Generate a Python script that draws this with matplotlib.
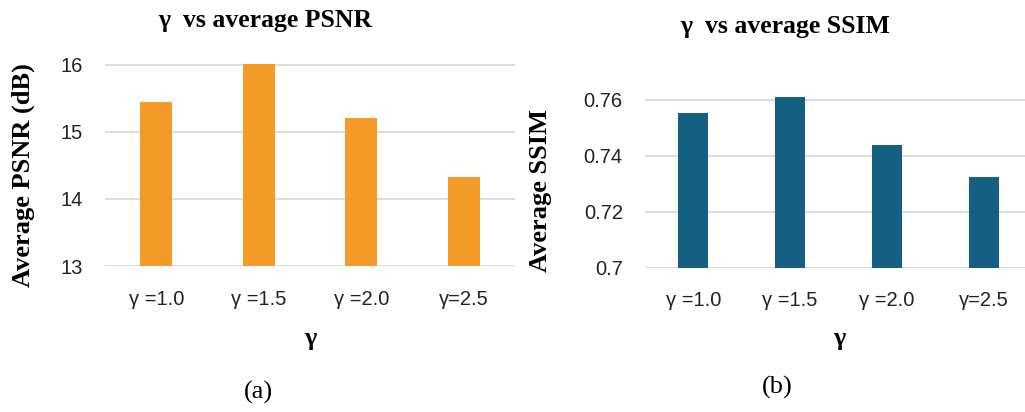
import matplotlib
matplotlib.use("Agg")
import matplotlib.pyplot as plt

categories = ["γ =1.0", "γ =1.5", "γ =2.0", "γ=2.5"]
psnr_values = [15.44, 16.01, 15.21, 14.33]
ssim_values = [0.7553, 0.7611, 0.7440, 0.7326]
psnr_ticks = [13, 14, 15, 16]
psnr_tick_labels = ["13", "14", "15", "16"]
ssim_ticks = [0.70, 0.72, 0.74, 0.76]
ssim_tick_labels = ["0.7", "0.72", "0.74", "0.76"]

ORANGE = "#F39A27"
BLUE = "#156082"
GRID = "#D9D9D9"
SERIF = ["Liberation Serif", "DejaVu Serif"]
SANS = ["Liberation Sans", "DejaVu Sans"]

fig = plt.figure(figsize=(10.25, 4.12), dpi=100)

def px_axes(x0, x1, y0, y1):
    W, H = 1025.0, 412.0
    return fig.add_axes([x0 / W, 1 - y1 / H, (x1 - x0) / W, (y1 - y0) / H])

def style(ax, ticks, labels, ylim):
    x = range(len(categories))
    ax.set_xlim(-0.5, len(categories) - 0.5)
    ax.set_ylim(*ylim)
    ax.set_xticks(list(x))
    ax.set_xticklabels(categories, fontsize=14.5, family=SANS, color="#222222")
    ax.set_yticks(ticks)
    ax.set_yticklabels(labels, fontsize=14.5, family=SANS, color="#222222")
    ax.tick_params(axis="both", length=0)
    ax.tick_params(axis="y", pad=16)
    ax.tick_params(axis="x", pad=17)
    for s in ax.spines.values():
        s.set_visible(False)
    ax.yaxis.grid(True, color=GRID, linewidth=1.3)
    ax.set_axisbelow(True)

# Left: PSNR
ax1 = px_axes(105, 515, 58, 266)
ax1.bar(range(len(categories)), psnr_values, width=0.31, color=ORANGE, zorder=3)
style(ax1, psnr_ticks, psnr_tick_labels, (13, 16.1))

# Right: SSIM
ax2 = px_axes(645, 1032, 86, 267.7)
ax2.bar(range(len(categories)), ssim_values, width=0.31, color=BLUE, zorder=3)
style(ax2, ssim_ticks, ssim_tick_labels, (0.70, 0.765))

# Titles
fig.text(265 / 1025, 1 - 20 / 412, "γ  vs average PSNR", ha="center", va="center",
         fontsize=18.5, fontweight="bold", family=SERIF)
fig.text(785 / 1025, 1 - 27 / 412, "γ  vs average SSIM", ha="center", va="center",
         fontsize=18.5, fontweight="bold", family=SERIF)

# Y labels
fig.text(23 / 1025, 1 - 175 / 412, "Average PSNR (dB)", ha="center", va="center",
         rotation=90, fontsize=19, fontweight="bold", family=SERIF)
fig.text(540 / 1025, 1 - 190 / 412, "Average SSIM", ha="center", va="center",
         rotation=90, fontsize=19, fontweight="bold", family=SERIF)

# X labels
fig.text(310 / 1025, 1 - 338 / 412, "γ", ha="center", va="center",
         fontsize=19, fontweight="bold", family=SERIF)
fig.text(839 / 1025, 1 - 338 / 412, "γ", ha="center", va="center",
         fontsize=19, fontweight="bold", family=SERIF)

# Captions
fig.text(258 / 1025, 1 - 392 / 412, "(a)", ha="center", va="center",
         fontsize=19, family=SERIF)
fig.text(777 / 1025, 1 - 387 / 412, "(b)", ha="center", va="center",
         fontsize=19, family=SERIF)

fig.savefig("out.png", dpi=100, facecolor="white")
